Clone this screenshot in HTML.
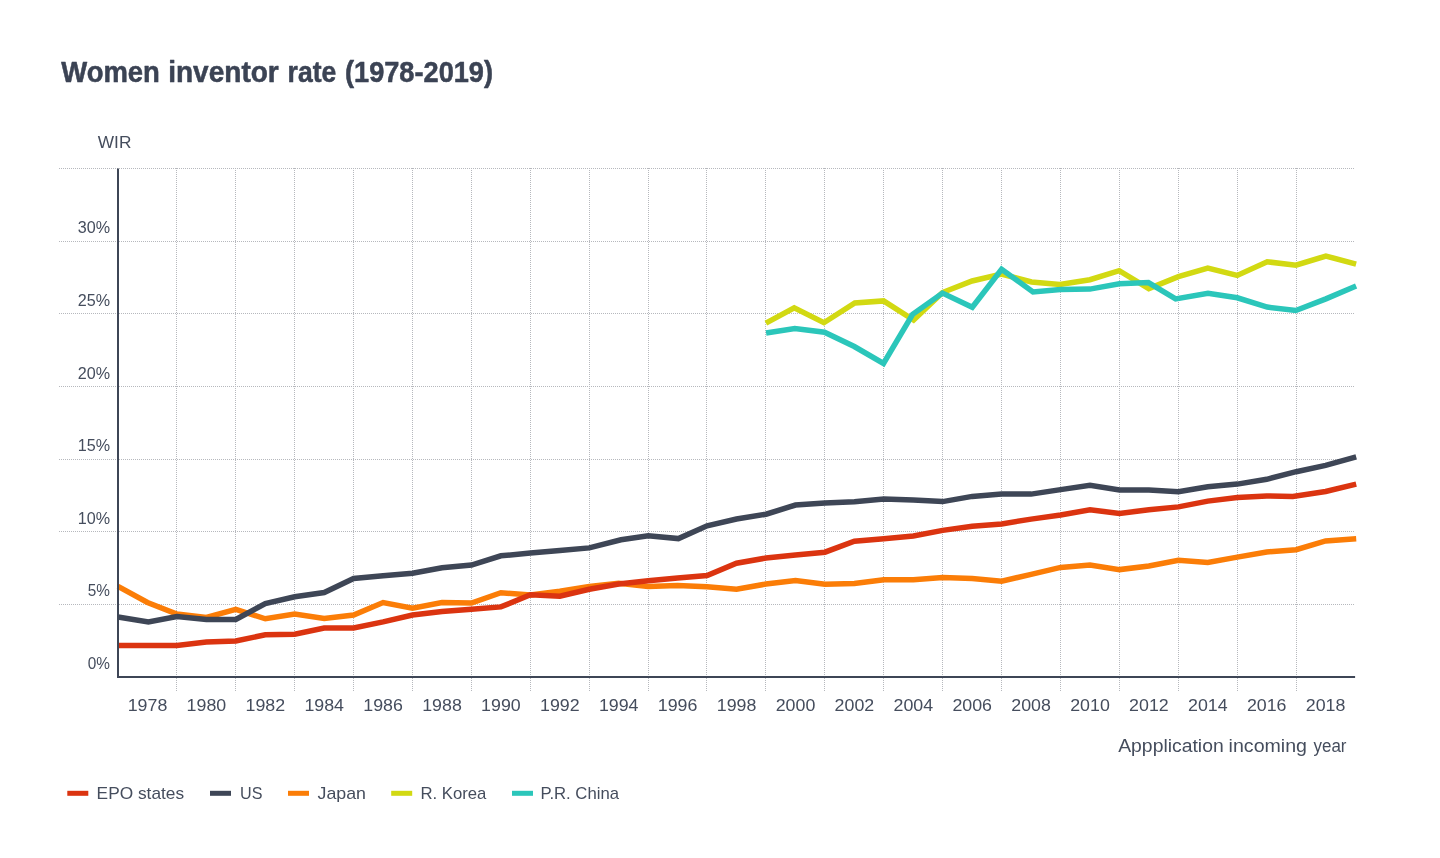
<!DOCTYPE html>
<html lang="en">
<head>
<meta charset="utf-8">
<title>Women inventor rate (1978-2019)</title>
<style>
html,body{margin:0;padding:0;background:#fff;}
body{width:1440px;height:858px;overflow:hidden;font-family:"Liberation Sans",sans-serif;}
svg{display:block;}
text{font-family:"Liberation Sans",sans-serif;fill:#454d5d;}
.title{font-weight:bold;font-size:30px;fill:#3b4354;stroke:#3b4354;stroke-width:0.55;stroke-linejoin:round;}
.lbl{font-size:17.5px;}
.tick{font-size:17px;}
.grid line{stroke:#b6b8bd;stroke-width:1;stroke-dasharray:1 1;}
.series path{fill:none;stroke-width:5.5;stroke-linejoin:miter;stroke-linecap:butt;}
</style>
</head>
<body>
<svg width="1440" height="858" viewBox="0 0 1440 858">
<rect x="0" y="0" width="1440" height="858" fill="#ffffff"/>
<text class="title" y="81.8"><tspan x="61.3" textLength="98.6" lengthAdjust="spacingAndGlyphs">Women</tspan> <tspan x="168.2" textLength="110.6" lengthAdjust="spacingAndGlyphs">inventor</tspan> <tspan x="287.6" textLength="48.6" lengthAdjust="spacingAndGlyphs">rate</tspan> <tspan x="345.0" textLength="148" lengthAdjust="spacingAndGlyphs">(1978-2019)</tspan></text>
<text class="tick" x="97.8" y="148" textLength="33.6" lengthAdjust="spacingAndGlyphs">WIR</text>
<g class="grid">
<line x1="59" y1="604.5" x2="1355" y2="604.5"/>
<line x1="59" y1="531.5" x2="1355" y2="531.5"/>
<line x1="59" y1="459.5" x2="1355" y2="459.5"/>
<line x1="59" y1="386.5" x2="1355" y2="386.5"/>
<line x1="59" y1="313.5" x2="1355" y2="313.5"/>
<line x1="59" y1="241.5" x2="1355" y2="241.5"/>
<line x1="59" y1="168.5" x2="1355" y2="168.5"/>
<line x1="176.5" y1="168" x2="176.5" y2="691"/>
<line x1="235.5" y1="168" x2="235.5" y2="691"/>
<line x1="294.5" y1="168" x2="294.5" y2="691"/>
<line x1="353.5" y1="168" x2="353.5" y2="691"/>
<line x1="412.5" y1="168" x2="412.5" y2="691"/>
<line x1="471.5" y1="168" x2="471.5" y2="691"/>
<line x1="530.5" y1="168" x2="530.5" y2="691"/>
<line x1="589.5" y1="168" x2="589.5" y2="691"/>
<line x1="648.5" y1="168" x2="648.5" y2="691"/>
<line x1="706.5" y1="168" x2="706.5" y2="691"/>
<line x1="765.5" y1="168" x2="765.5" y2="691"/>
<line x1="824.5" y1="168" x2="824.5" y2="691"/>
<line x1="883.5" y1="168" x2="883.5" y2="691"/>
<line x1="942.5" y1="168" x2="942.5" y2="691"/>
<line x1="1001.5" y1="168" x2="1001.5" y2="691"/>
<line x1="1060.5" y1="168" x2="1060.5" y2="691"/>
<line x1="1119.5" y1="168" x2="1119.5" y2="691"/>
<line x1="1178.5" y1="168" x2="1178.5" y2="691"/>
<line x1="1237.5" y1="168" x2="1237.5" y2="691"/>
<line x1="1296.5" y1="168" x2="1296.5" y2="691"/>
</g>
<text class="tick" x="87.8" y="669.0" textLength="22.2" lengthAdjust="spacingAndGlyphs">0%</text>
<text class="tick" x="87.8" y="596.4" textLength="22.2" lengthAdjust="spacingAndGlyphs">5%</text>
<text class="tick" x="77.7" y="523.8" textLength="32.3" lengthAdjust="spacingAndGlyphs">10%</text>
<text class="tick" x="77.7" y="451.2" textLength="32.3" lengthAdjust="spacingAndGlyphs">15%</text>
<text class="tick" x="77.7" y="378.5" textLength="32.3" lengthAdjust="spacingAndGlyphs">20%</text>
<text class="tick" x="77.7" y="305.9" textLength="32.3" lengthAdjust="spacingAndGlyphs">25%</text>
<text class="tick" x="77.7" y="233.3" textLength="32.3" lengthAdjust="spacingAndGlyphs">30%</text>
<text class="tick" x="127.7" y="710.8" textLength="39.6" lengthAdjust="spacingAndGlyphs">1978</text>
<text class="tick" x="186.6" y="710.8" textLength="39.6" lengthAdjust="spacingAndGlyphs">1980</text>
<text class="tick" x="245.5" y="710.8" textLength="39.6" lengthAdjust="spacingAndGlyphs">1982</text>
<text class="tick" x="304.4" y="710.8" textLength="39.6" lengthAdjust="spacingAndGlyphs">1984</text>
<text class="tick" x="363.3" y="710.8" textLength="39.6" lengthAdjust="spacingAndGlyphs">1986</text>
<text class="tick" x="422.2" y="710.8" textLength="39.6" lengthAdjust="spacingAndGlyphs">1988</text>
<text class="tick" x="481.1" y="710.8" textLength="39.6" lengthAdjust="spacingAndGlyphs">1990</text>
<text class="tick" x="540.0" y="710.8" textLength="39.6" lengthAdjust="spacingAndGlyphs">1992</text>
<text class="tick" x="598.9" y="710.8" textLength="39.6" lengthAdjust="spacingAndGlyphs">1994</text>
<text class="tick" x="657.8" y="710.8" textLength="39.6" lengthAdjust="spacingAndGlyphs">1996</text>
<text class="tick" x="716.8" y="710.8" textLength="39.6" lengthAdjust="spacingAndGlyphs">1998</text>
<text class="tick" x="775.7" y="710.8" textLength="39.6" lengthAdjust="spacingAndGlyphs">2000</text>
<text class="tick" x="834.6" y="710.8" textLength="39.6" lengthAdjust="spacingAndGlyphs">2002</text>
<text class="tick" x="893.5" y="710.8" textLength="39.6" lengthAdjust="spacingAndGlyphs">2004</text>
<text class="tick" x="952.4" y="710.8" textLength="39.6" lengthAdjust="spacingAndGlyphs">2006</text>
<text class="tick" x="1011.3" y="710.8" textLength="39.6" lengthAdjust="spacingAndGlyphs">2008</text>
<text class="tick" x="1070.2" y="710.8" textLength="39.6" lengthAdjust="spacingAndGlyphs">2010</text>
<text class="tick" x="1129.1" y="710.8" textLength="39.6" lengthAdjust="spacingAndGlyphs">2012</text>
<text class="tick" x="1188.0" y="710.8" textLength="39.6" lengthAdjust="spacingAndGlyphs">2014</text>
<text class="tick" x="1246.9" y="710.8" textLength="39.6" lengthAdjust="spacingAndGlyphs">2016</text>
<text class="tick" x="1305.8" y="710.8" textLength="39.6" lengthAdjust="spacingAndGlyphs">2018</text>
<text class="lbl" y="752"><tspan x="1118.2" textLength="105.5" lengthAdjust="spacingAndGlyphs">Appplication</tspan> <tspan x="1228.6" textLength="78.4" lengthAdjust="spacingAndGlyphs">incoming</tspan> <tspan x="1313.5" textLength="33" lengthAdjust="spacingAndGlyphs">year</tspan></text>
<g class="series">
<path stroke="#d2d912" d="M765.9,323.2 L794.2,307.8 L823.9,322.7 L854.8,303.0 L883.6,300.9 L913.6,320.1 L942.5,292.5 L972.1,281.0 L1001.4,274.0 L1031.5,282.0 L1059.9,284.5 L1089.9,279.7 L1119.2,270.7 L1148.8,288.6 L1178.4,276.7 L1207.8,268.2 L1237.2,275.4 L1267.2,261.8 L1295.9,265.2 L1325.9,256.0 L1356.1,264.1"/>
<path stroke="#fb7d07" d="M118.0,586.4 L147.5,602.5 L176.9,614.0 L206.4,617.5 L235.8,609.4 L265.3,618.8 L294.7,614.0 L324.2,618.5 L353.6,615.0 L383.1,602.5 L412.5,608.2 L442.0,602.5 L471.5,603.0 L500.9,592.7 L530.4,595.0 L559.8,591.2 L589.3,586.5 L618.7,583.3 L648.2,586.6 L677.6,585.6 L707.1,586.8 L736.5,589.2 L766.0,584.0 L795.5,580.4 L824.9,584.2 L854.4,583.5 L883.8,579.8 L913.3,579.8 L942.7,577.4 L972.2,578.4 L1001.6,581.2 L1031.1,574.4 L1060.6,567.4 L1090.0,565.0 L1119.5,569.6 L1148.9,566.0 L1178.4,560.2 L1207.8,562.4 L1237.3,557.1 L1266.7,552.0 L1296.2,549.7 L1325.6,540.9 L1356.2,538.8"/>
<path stroke="#3e4656" d="M118.0,617.0 L148.4,621.9 L176.9,616.5 L206.4,619.5 L235.8,619.5 L265.3,603.5 L294.7,596.7 L324.2,592.5 L353.6,578.5 L383.1,575.8 L412.5,573.3 L442.0,567.7 L471.5,565.0 L500.9,555.8 L530.4,553.1 L559.8,550.4 L589.3,547.9 L621.0,539.8 L648.2,535.8 L678.4,538.6 L707.1,525.8 L736.5,519.0 L766.0,514.2 L795.5,505.0 L824.9,502.9 L854.4,501.7 L883.8,499.1 L913.3,500.0 L942.7,501.6 L972.2,496.4 L1001.6,494.1 L1031.1,494.1 L1060.6,489.6 L1090.0,485.4 L1119.5,490.0 L1148.9,490.0 L1178.4,491.8 L1207.8,486.8 L1237.3,484.1 L1266.7,479.3 L1296.2,471.7 L1325.6,465.4 L1356.2,456.9"/>
<path stroke="#db3410" d="M118.0,645.6 L147.5,645.6 L176.9,645.6 L206.4,642.0 L235.8,641.0 L265.3,634.8 L294.7,634.2 L324.2,628.0 L353.6,628.0 L383.1,621.9 L412.5,615.0 L442.0,611.5 L471.5,609.2 L500.9,606.9 L530.4,594.8 L559.8,596.2 L589.3,589.2 L618.7,584.0 L648.2,580.8 L677.6,578.1 L707.1,575.6 L736.5,563.2 L766.0,558.0 L795.5,554.9 L824.9,552.2 L854.4,541.2 L883.8,538.7 L913.3,536.0 L942.7,530.4 L972.2,526.2 L1001.6,523.9 L1031.1,519.1 L1060.6,515.0 L1090.0,509.8 L1119.5,513.4 L1148.9,509.8 L1178.4,506.9 L1207.8,501.1 L1237.3,497.6 L1266.7,495.9 L1292.8,496.4 L1325.6,491.5 L1356.2,484.1"/>
<path stroke="#2bc6ba" d="M766.1,333.0 L794.8,328.5 L824.5,332.2 L854.3,346.5 L883.5,363.5 L912.6,314.3 L942.5,293.1 L972.3,307.2 L1001.6,269.3 L1033.0,291.9 L1060.4,289.5 L1089.9,289.1 L1119.4,283.7 L1148.4,282.6 L1175.6,298.9 L1208.0,293.2 L1237.3,297.8 L1267.2,307.1 L1295.8,310.5 L1325.9,298.9 L1356.1,286.0"/>
</g>
<path d="M118,168.5 V677 H1355.1" fill="none" stroke="#3e4656" stroke-width="2"/>
<rect x="67.3" y="790.8" width="21" height="5" fill="#db3410"/>
<text class="tick" x="96.6" y="799.3" textLength="87.5" lengthAdjust="spacingAndGlyphs">EPO states</text>
<rect x="210.0" y="790.8" width="21" height="5" fill="#3e4656"/>
<text class="tick" x="240.0" y="799.3" textLength="22.4" lengthAdjust="spacingAndGlyphs">US</text>
<rect x="288.0" y="790.8" width="21" height="5" fill="#fb7d07"/>
<text class="tick" x="317.5" y="799.3" textLength="48.5" lengthAdjust="spacingAndGlyphs">Japan</text>
<rect x="391.2" y="790.8" width="21" height="5" fill="#d2d912"/>
<text class="tick" x="420.4" y="799.3" textLength="66.0" lengthAdjust="spacingAndGlyphs">R. Korea</text>
<rect x="512.0" y="790.8" width="21" height="5" fill="#2bc6ba"/>
<text class="tick" x="540.4" y="799.3" textLength="78.6" lengthAdjust="spacingAndGlyphs">P.R. China</text>
</svg>
</body>
</html>
